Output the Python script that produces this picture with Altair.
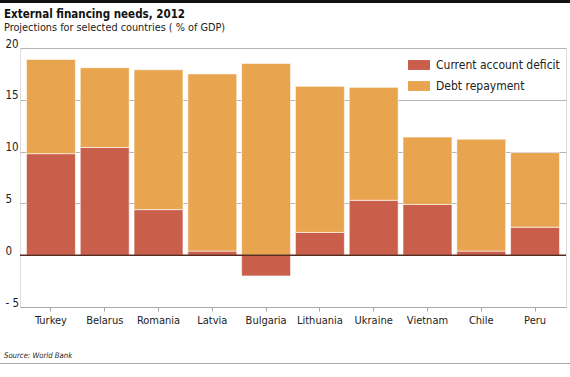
import altair as alt
import pandas as pd

countries = ["Turkey", "Belarus", "Romania", "Latvia", "Bulgaria",
             "Lithuania", "Ukraine", "Vietnam", "Chile", "Peru"]
current_account = [9.8, 10.4, 4.4, 0.4, -2.0, 2.2, 5.3, 4.9, 0.4, 2.7]
debt_repayment = [9.1, 7.7, 13.5, 17.1, 18.5, 14.1, 10.9, 6.5, 10.8, 7.2]
series = ["Current account deficit", "Debt repayment"]
colors = ["#c95e4b", "#e9a44f"]
y_ticks = [-5, 0, 5, 10, 15, 20]

rows = []
for c, ca, dr in zip(countries, current_account, debt_repayment):
    rows.append({"country": c, "series": series[0], "value": ca, "o": 0})
    rows.append({"country": c, "series": series[1], "value": dr, "o": 1})
df = pd.DataFrame(rows)

FONT = "'DejaVu Sans Condensed', Roboto, sans-serif"

bars = alt.Chart(df).mark_bar(stroke="white", strokeOpacity=0.6, strokeWidth=1).encode(
    x=alt.X("country:N", sort=countries, title=None,
            scale=alt.Scale(paddingInner=0.09, paddingOuter=0.12),
            axis=alt.Axis(labelAngle=0, labelFont=FONT, labelFontSize=11, labelColor="#222",
                          domainColor="#aaa", tickColor="#aaa", tickSize=4, labelPadding=3,
                          grid=False)),
    y=alt.Y("value:Q", stack="zero", title=None,
            scale=alt.Scale(domain=[-5, 20], nice=False),
            axis=alt.Axis(values=y_ticks, ticks=False, domain=False, labelAlign="left",
                          labelPadding=15, labelFont=FONT, labelFontSize=11.5, labelColor="#222",
                          labelBaseline="alphabetic", labelOffset=-1,
                          labelExpr="datum.value < 0 ? '- ' + abs(datum.value) : datum.label",
                          grid=True, gridColor="#b5b5b5", gridWidth=1)),
    color=alt.Color("series:N", scale=alt.Scale(domain=series, range=colors),
                    legend=alt.Legend(title=None, orient="none", legendX=388, legendY=6,
                                      labelFont=FONT, labelFontSize=12, labelColor="#222",
                                      symbolType="M-1,-0.45H1V0.45H-1Z", symbolSize=484,
                                      symbolStrokeWidth=0, rowPadding=4, labelOffset=6)),
    order=alt.Order("o:Q"),
)

zero = alt.Chart(pd.DataFrame({"z": [0]})).mark_rule(color="#5a2a1e", strokeWidth=1.5).encode(
    y="z:Q"
)

title = alt.Chart(pd.DataFrame({"t": ["External financing needs, 2012"]})).mark_text(
    align="left", baseline="alphabetic", font=FONT, fontSize=11.5, fontWeight="bold", color="#111"
).encode(text="t:N", x=alt.value(-16), y=alt.value(-30.5))
subtitle = alt.Chart(pd.DataFrame({"t": ["Projections for selected countries ( % of GDP)"]})).mark_text(
    align="left", baseline="alphabetic", font=FONT, fontSize=10.8, color="#222"
).encode(text="t:N", x=alt.value(-16), y=alt.value(-17.5))
source = alt.Chart(pd.DataFrame({"t": ["Source: World Bank"]})).mark_text(
    align="left", baseline="alphabetic", font=FONT, fontSize=7.7, fontStyle="italic", color="#222"
).encode(text="t:N", x=alt.value(-16), y=alt.value(310))

top_rule = alt.Chart(pd.DataFrame({"z": [0]})).mark_rule(color="#111", strokeWidth=3).encode(
    x=alt.value(-20), x2=alt.value(550), y=alt.value(-46.5)
)
bottom_rule = alt.Chart(pd.DataFrame({"z": [0]})).mark_rule(color="#aaa", strokeWidth=1).encode(
    x=alt.value(-20), x2=alt.value(550), y=alt.value(315.5)
)

chart = alt.layer(bars, zero, title, subtitle, source, top_rule, bottom_rule).properties(
    width=546, height=259,
    autosize=alt.AutoSizeParams(type="none"),
    padding={"left": 20, "top": 48, "right": 4, "bottom": 70},
).configure_view(stroke=None).configure(background="white")

chart.save("out.html", embed_options={"renderer": "svg", "actions": False})
